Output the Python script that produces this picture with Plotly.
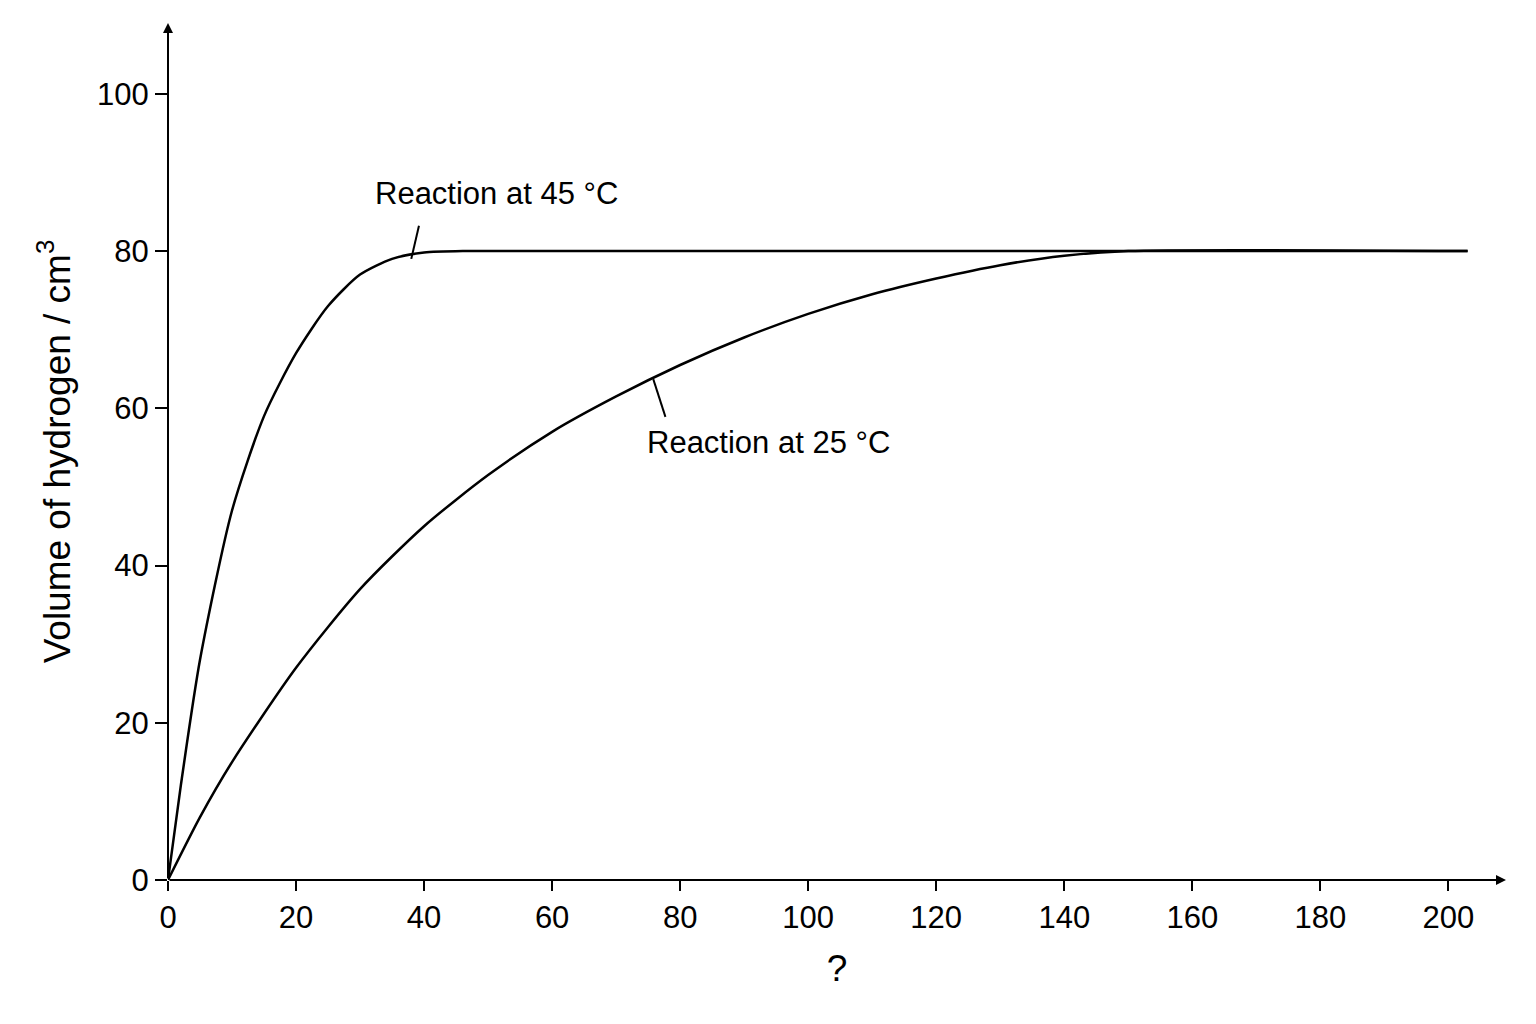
import plotly.graph_objects as go

# time values and volumes (cm3)
t_45 = [0, 2, 5, 10, 15, 20, 25, 30, 35, 40, 47, 203]
v_45 = [0, 12, 28, 47, 59, 67, 73, 77, 79, 79.8, 80, 80]

t_25 = [0, 5, 10, 20, 30, 40, 50, 60, 70, 80, 90, 100, 110, 120, 130, 140, 150, 203]
v_25 = [0, 8, 15, 27, 37, 45, 51.5, 57, 61.5, 65.5, 69, 72, 74.5, 76.5, 78.2, 79.4, 80, 80]

x_ticks = list(range(0, 201, 20))
y_ticks = list(range(0, 101, 20))

FONT = "Liberation Sans Narrow, Arial Narrow, Liberation Sans, sans-serif"

fig = go.Figure()
for t, v in [(t_45, v_45), (t_25, v_25)]:
    fig.add_trace(go.Scatter(x=t, y=v, mode="lines", line_shape="spline",
                             line=dict(color="black", width=2.5, smoothing=0.7),
                             showlegend=False))

# axes drawn as arrows
for ax_, ay_, x_, y_ in [(0, 0, 209, 0), (0, 0, 0, 109)]:
    fig.add_annotation(x=x_, y=y_, ax=ax_, ay=ay_, xref="x", yref="y", axref="x", ayref="y",
                       showarrow=True, arrowhead=2, arrowsize=1, arrowwidth=2,
                       arrowcolor="black", text="")

# labels with leader lines
fig.add_annotation(x=51.3, y=87.3, text="Reaction at 45 °C", showarrow=False,
                   font=dict(size=31, family=FONT, color="black"))
fig.add_shape(type="line", x0=38, y0=79, x1=39.2, y1=83.2, line=dict(color="black", width=2))
fig.add_annotation(x=93.8, y=55.6, text="Reaction at 25 °C", showarrow=False,
                   font=dict(size=31, family=FONT, color="black"))
fig.add_shape(type="line", x0=75.8, y0=63.7, x1=77.7, y1=58.9, line=dict(color="black", width=2))

fig.update_layout(
    width=1536, height=1024,
    margin=dict(l=160, r=38, t=15, b=152),
    plot_bgcolor="white", paper_bgcolor="white",
    font=dict(family=FONT, size=31, color="black"),
    xaxis=dict(range=[0, 209], tickvals=x_ticks, showgrid=False, zeroline=False,
               ticks="outside", ticklen=10, tickwidth=2, tickcolor="black",
               title=dict(text="?", standoff=20)),
    yaxis=dict(range=[0, 109], tickvals=y_ticks, showgrid=False, zeroline=False,
               ticks="outside", ticklen=12, tickwidth=2, tickcolor="black",
               title=dict(text="Volume of hydrogen / cm<sup>3</sup>", standoff=15)),
)

fig.write_html("out.html")
